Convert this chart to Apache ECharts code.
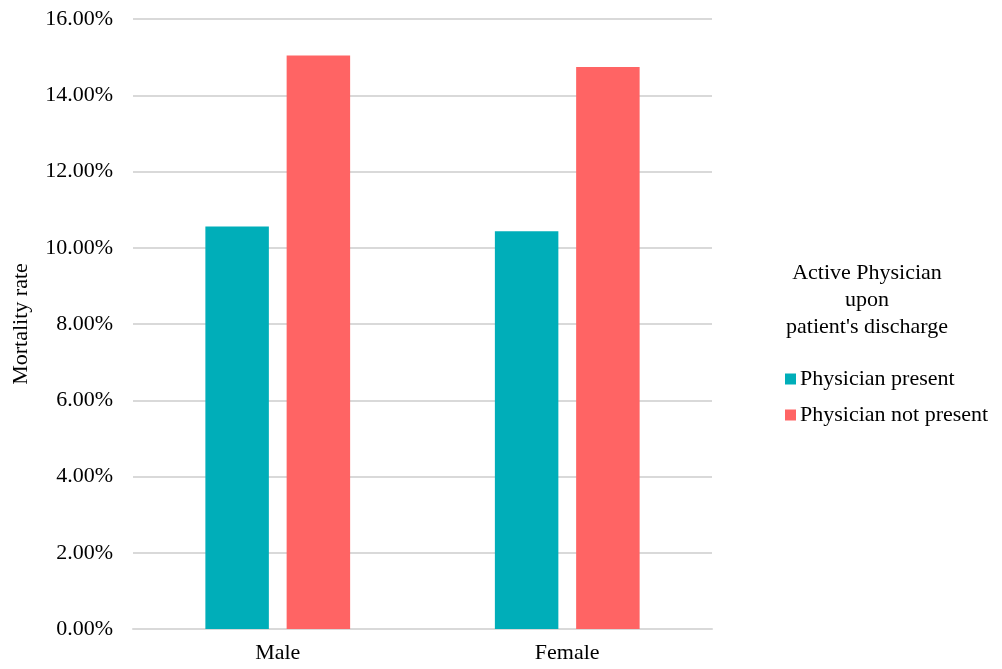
<!DOCTYPE html>
<html>
<head>
<meta charset="utf-8">
<script src="https://cdn.jsdelivr.net/npm/echarts@6/dist/echarts.min.js"></script>
<style>html,body{margin:0;padding:0;background:#fff;}#chart{width:1002px;height:669px;}</style>
</head>
<body>
<div id="chart"></div>
<script>
const categories = ['Male', 'Female'];
const physicianPresent = [10.56, 10.43];
const physicianNotPresent = [15.04, 14.74];
const seriesNames = ['Physician present', 'Physician not present'];
const legendTitle = 'Active Physician\nupon\npatient\'s discharge';
const yAxisName = 'Mortality rate';

const FONT = '"Liberation Serif", "Times New Roman", serif';
const chart = echarts.init(document.getElementById('chart'), null, {renderer: 'canvas'});
chart.setOption({
  animation: false,
  backgroundColor: '#ffffff',
  title: {
    text: legendTitle,
    left: 862,
    top: 255,
    textAlign: 'center',
    textStyle: {fontFamily: FONT, fontSize: 22, fontWeight: 'normal', color: '#000', lineHeight: 27}
  },
  legend: {
    data: seriesNames,
    orient: 'vertical',
    left: 780,
    top: 363,
    icon: 'rect',
    itemWidth: 11,
    itemHeight: 11,
    itemGap: 14,
    textStyle: {fontFamily: FONT, fontSize: 22, color: '#000', padding: [0, 0, 0, -1]}
  },
  grid: {left: 133, right: 290, top: 19, bottom: 40, containLabel: false, outerBoundsMode: 'none'},
  xAxis: {
    type: 'category',
    data: categories,
    axisLine: {show: true, lineStyle: {color: '#d9d9d9', width: 2}},
    axisTick: {show: false},
    axisLabel: {fontFamily: FONT, fontSize: 22, color: '#000', margin: 13}
  },
  yAxis: {
    type: 'value',
    min: 0,
    max: 16,
    interval: 2,
    name: yAxisName,
    nameLocation: 'middle',
    nameRotate: 90,
    nameGap: 101,
    nameTextStyle: {fontFamily: FONT, fontSize: 22, color: '#000'},
    axisLine: {show: false},
    axisTick: {show: false},
    splitLine: {lineStyle: {color: '#d9d9d9', width: 2}},
    axisLabel: {fontFamily: FONT, fontSize: 22, color: '#000', margin: 20,
      formatter: v => v.toFixed(2) + '%'}
  },
  series: [
    {name: seriesNames[0], type: 'bar', data: physicianPresent, itemStyle: {color: '#00AEB9'},
     barGap: '28%', barCategoryGap: '50%'},
    {name: seriesNames[1], type: 'bar', data: physicianNotPresent, itemStyle: {color: '#FF6464'},
     barGap: '28%', barCategoryGap: '50%'}
  ]
});
</script>
</body>
</html>
